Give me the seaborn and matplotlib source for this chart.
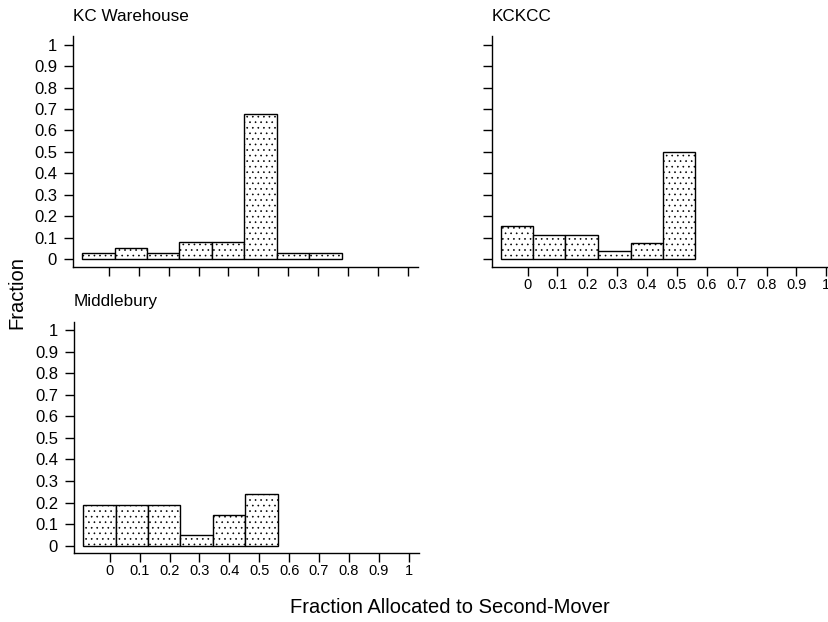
import numpy as np
import pandas as pd
import matplotlib
matplotlib.use("Agg")
import matplotlib.pyplot as plt
import seaborn as sns

# bin edges of the histogram (fraction allocated)
bin_edges = [-0.09, 0.019, 0.127, 0.236, 0.345, 0.453, 0.562, 0.671, 0.780]

# fraction of subjects in each bin, per site
kc_warehouse = [0.027, 0.054, 0.027, 0.081, 0.081, 0.676, 0.027, 0.027]
kckcc = [0.154, 0.115, 0.115, 0.038, 0.077, 0.500]
middlebury = [0.190, 0.190, 0.190, 0.048, 0.143, 0.238]

x_ticks = [0, 0.1, 0.2, 0.3, 0.4, 0.5, 0.6, 0.7, 0.8, 0.9, 1]
x_ticklabels = ["0", "0.1", "0.2", "0.3", "0.4", "0.5", "0.6", "0.7", "0.8", "0.9", "1"]
y_ticks = [0, 0.1, 0.2, 0.3, 0.4, 0.5, 0.6, 0.7, 0.8, 0.9, 1]
y_ticklabels = ["0", "0.1", "0.2", "0.3", "0.4", "0.5", "0.6", "0.7", "0.8", "0.9", "1"]

sns.set_style("ticks")
plt.rcParams['font.family'] = ['Liberation Sans', 'DejaVu Sans']
plt.rcParams['hatch.linewidth'] = 0.45
plt.rcParams['text.color'] = 'black'
plt.rcParams['axes.labelcolor'] = 'black'
plt.rcParams['xtick.color'] = 'black'
plt.rcParams['ytick.color'] = 'black'
plt.rcParams['axes.edgecolor'] = 'black'

fig = plt.figure(figsize=(8.29, 6.22), dpi=100)

# panel positions [left, bottom, width, height] in figure fraction
ax1 = fig.add_axes([0.0881, 0.5707, 0.4162, 0.3714])
ax2 = fig.add_axes([0.5931, 0.5707, 0.4162, 0.3714])
ax3 = fig.add_axes([0.0893, 0.1104, 0.4162, 0.3724])

panels = [
    (ax1, "KC Warehouse", kc_warehouse, True, False),
    (ax2, "KCKCC", kckcc, False, True),
    (ax3, "Middlebury", middlebury, True, True),
]

for ax, title, vals, show_y, show_x in panels:
    n = len(vals)
    edges = bin_edges[:n + 1]
    centers = [(edges[i] + edges[i + 1]) / 2 for i in range(n)]
    df = pd.DataFrame({"x": centers, "w": vals})
    sns.histplot(data=df, x="x", weights="w", bins=edges, stat="count",
                 color="white", edgecolor="black", linewidth=1.0,
                 alpha=1, ax=ax)
    for p in ax.patches:
        p.set_hatch("...")
    ax.set_xlim(-0.12, 1.035)
    ax.set_ylim(-0.036, 1.04)
    ax.set_xticks(x_ticks)
    ax.set_yticks(y_ticks)
    ax.set_xticklabels(x_ticklabels if show_x else [])
    ax.set_yticklabels(y_ticklabels if show_y else [])
    ax.tick_params(axis="y", length=6.5, width=1, pad=5, labelsize=12)
    ax.tick_params(axis="x", length=6.5, width=1, pad=1.5, labelsize=10.5)
    sns.despine(ax=ax)
    for s in ["left", "bottom"]:
        ax.spines[s].set_linewidth(1.0)
    ax.set_xlabel("")
    ax.set_ylabel("")
    ax.set_title(title, loc="left", fontsize=12.3, pad=11)

fig.text(0.543, 0.008, "Fraction Allocated to Second-Mover", fontsize=14.5,
         ha="center", va="bottom")
fig.text(0.02, 0.53, "Fraction", fontsize=14.5, rotation=90,
         ha="center", va="center")

fig.savefig("out.png", dpi=100)
